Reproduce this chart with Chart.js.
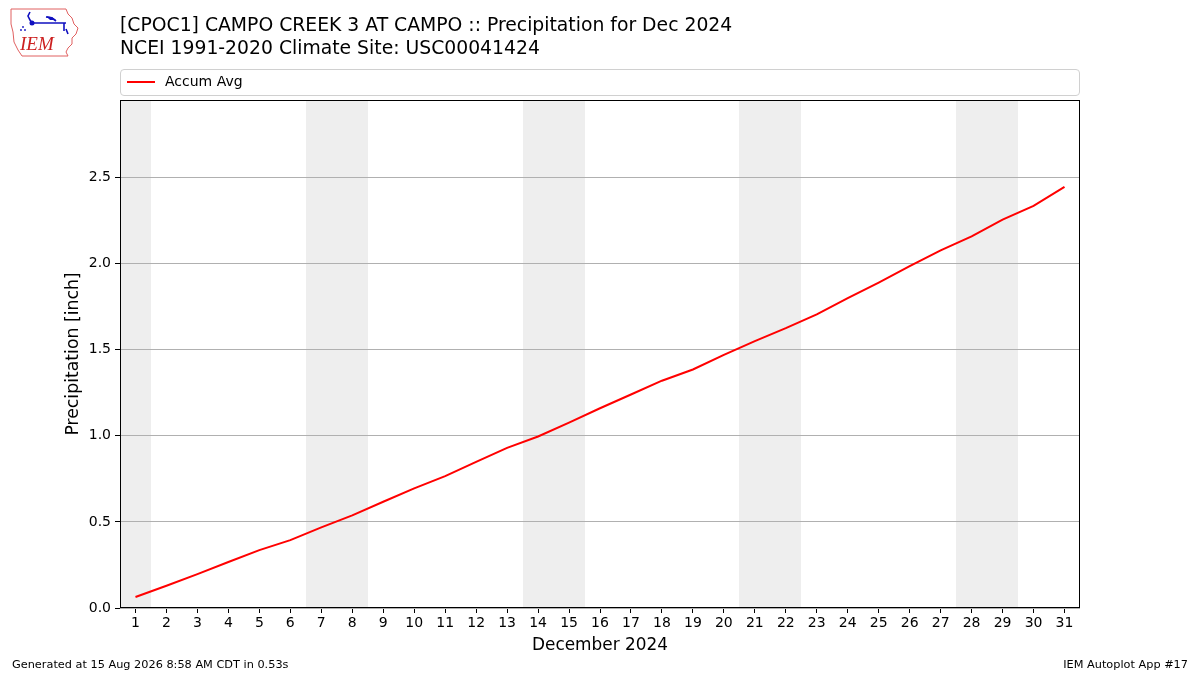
<!DOCTYPE html>
<html>
<head>
<meta charset="utf-8">
<script src="https://cdn.jsdelivr.net/npm/chart.js@4/dist/chart.umd.min.js"></script>
<style>
  body { margin: 0; background: #fff; font-family: "DejaVu Sans", sans-serif; }
  #wrap { position: relative; width: 1200px; height: 675px; overflow: hidden; }
  #chart { position: absolute; left: 0; top: 0; }
  .title { position: absolute; left: 120px; font-size: 18.8px; color: #000; white-space: nowrap; }
  .foot { position: absolute; top: 658px; font-size: 11.3px; color: #000; white-space: nowrap; }
  #legend { position: absolute; left: 120px; top: 69px; width: 958px; height: 25px;
            border: 1px solid #d0d0d0; border-radius: 4px; font-size: 14px; }
  #legend .swatch { position: absolute; left: 6px; top: 11px; width: 28px; height: 2px; background: #ff0000; }
  #legend .lbl { position: absolute; left: 44px; top: 3px; }
  #logo { position: absolute; left: 8px; top: 6px; }
</style>
</head>
<body>
<div id="wrap">
  <canvas id="chart" width="1200" height="675"></canvas>
  <svg id="logo" width="72" height="52" viewBox="0 0 72 52">
    <path d="M3 3 L58 3 L60 8 L64 12 L66 18 L70 22 L68 28 L64 32 L64 38 L60 42 L58 46 L60 50 L14 50 L10 44 L6 36 L5 26 L3 18 Z"
          fill="none" stroke="#e06060" stroke-width="1"/>
    <text x="12" y="44" font-family="Liberation Serif, serif" font-style="italic" font-size="19" fill="#cc2020">IEM</text>
    <path d="M22 6 L20 10 L22 14 L24 17 M24 17 L58 17 M38 11 L44 12 L48 15 M56 17 L56 25 M58 23 L60 28"
          fill="none" stroke="#1010c0" stroke-width="1.6"/>
    <path d="M38 10 L44 11 L48 14 L42 14 Z" fill="#1010c0"/>
    <circle cx="24" cy="17" r="2.5" fill="#1010c0"/>
    <circle cx="15" cy="21" r="0.9" fill="#1010c0"/>
    <circle cx="13" cy="24" r="0.9" fill="#1010c0"/>
    <circle cx="17" cy="24" r="0.9" fill="#1010c0"/>
  </svg>
  <div class="title" style="top:14px">[CPOC1] CAMPO CREEK 3 AT CAMPO :: Precipitation for Dec 2024</div>
  <div class="title" style="top:37px">NCEI 1991-2020 Climate Site: USC00041424</div>
  <div id="legend"><span class="swatch"></span><span class="lbl">Accum Avg</span></div>
  <div class="foot" style="left:12px">Generated at 15 Aug 2026 8:58 AM CDT in 0.53s</div>
  <div class="foot" style="right:12px">IEM Autoplot App #17</div>
</div>
<script>
// day of month
const days = [1,2,3,4,5,6,7,8,9,10,11,12,13,14,15,16,17,18,19,20,21,22,23,24,25,26,27,28,29,30,31];
// accumulated average precipitation [inch]
const accumAvg = [0.064,0.129,0.197,0.267,0.336,0.394,0.468,0.538,0.617,0.695,
                  0.766,0.849,0.930,0.996,1.077,1.160,1.240,1.320,1.385,1.470,
                  1.550,1.625,1.705,1.800,1.890,1.985,2.077,2.158,2.255,2.335,2.445];
// weekend days (shaded)
const weekendDays = [1,7,8,14,15,21,22,28,29];
const yTicks = [0.0,0.5,1.0,1.5,2.0,2.5];

const weekendShade = {
    id: 'weekendShade',
    beforeDraw(chart) {
        const {ctx, chartArea, scales} = chart;
        // merge consecutive weekend days into single bands
        const runs = [];
        weekendDays.forEach(d => {
            const last = runs[runs.length - 1];
            if (last && last[1] === d - 1) last[1] = d;
            else runs.push([d, d]);
        });
        ctx.save();
        ctx.fillStyle = '#eeeeee';
        runs.forEach(([a, b]) => {
            const x0 = Math.round(Math.max(scales.x.getPixelForValue(a - 0.5), chartArea.left));
            const x1 = Math.round(Math.min(scales.x.getPixelForValue(b + 0.5), chartArea.right));
            ctx.fillRect(x0, chartArea.top, x1 - x0, chartArea.bottom - chartArea.top);
        });
        ctx.restore();
    }
};

const frameBox = {
    id: 'frameBox',
    afterDraw(chart) {
        const {ctx, chartArea} = chart;
        ctx.save();
        ctx.strokeStyle = '#000';
        ctx.lineWidth = 1;
        ctx.strokeRect(Math.round(chartArea.left) + 0.5, Math.round(chartArea.top) + 0.5,
                       Math.round(chartArea.right - chartArea.left) - 1,
                       Math.round(chartArea.bottom - chartArea.top) - 1);
        ctx.restore();
    }
};

const ctx = document.getElementById('chart');
const myChart = new Chart(ctx, {
    type: 'line',
    data: {
        datasets: [{
            label: 'Accum Avg',
            data: days.map((d, i) => ({x: d, y: accumAvg[i]})),
            borderColor: '#ff0000',
            borderWidth: 2,
            pointRadius: 0,
            tension: 0,
            fill: false
        }]
    },
    options: {
        responsive: false,
        animation: false,
        layout: { padding: { left: 0, right: 120, top: 100, bottom: 0 } },
        plugins: {
            legend: { display: false },
            tooltip: { enabled: false }
        },
        scales: {
            x: {
                type: 'linear',
                min: 0.5,
                max: 31.5,
                afterBuildTicks: s => { s.ticks = days.map(v => ({value: v})); },
                afterFit: s => { s.height = 67; },
                grid: { drawOnChartArea: false, color: '#000', tickLength: 5 },
                border: { display: false },
                ticks: { color: '#000', font: { family: 'DejaVu Sans', size: 14 }, padding: 2, maxRotation: 0, autoSkip: false },
                title: { display: true, text: 'December 2024', color: '#000',
                         font: { family: 'DejaVu Sans', size: 16.9 }, padding: { top: 0, bottom: 19 } }
            },
            y: {
                min: 0,
                max: 2.95,
                afterBuildTicks: s => { s.ticks = yTicks.map(v => ({value: v})); },
                afterFit: s => { s.width = 120; },
                grid: { color: '#b0b0b0', tickColor: '#000', tickLength: 5 },
                border: { display: false },
                ticks: { color: '#000', font: { family: 'DejaVu Sans', size: 14 }, padding: 4,
                         callback: v => v.toFixed(1) },
                title: { display: true, text: 'Precipitation [inch]', color: '#000',
                         font: { family: 'DejaVu Sans', size: 17.3 }, padding: { top: 63, bottom: 0 } }
            }
        }
    },
    plugins: [weekendShade, frameBox]
});
</script>
</body>
</html>
